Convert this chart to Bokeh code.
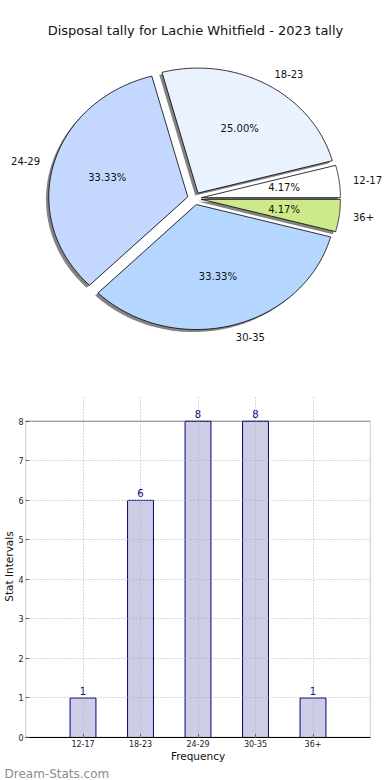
import numpy as np
from bokeh.plotting import figure
from bokeh.models import Range1d, FixedTicker, BoxAnnotation, Title
from bokeh.embed import file_html
from bokeh.resources import INLINE
from bokeh.core.properties import value

# ---------------- data ----------------
title_text = "Disposal tally for Lachie Whitfield - 2023 tally"
categories = ["12-17", "18-23", "24-29", "30-35", "36+"]
counts = [1, 6, 8, 8, 1]
slice_colors = ["#ffffff", "#eaf2ff", "#c4d8ff", "#b5d6ff", "#cdea8a"]
explode = [0.05, 0.05, 0.05, 0.05, 0.05]
y_ticks = [0, 1, 2, 3, 4, 5, 6, 7, 8]
x_label = "Frequency"
y_label = "Stat Intervals"
watermark = "Dream-Stats.com"

# ---------------- layout constants ----------------
FONT = "DejaVu Sans"
W = 390
H1 = 395
H2 = 385
RX, RY = 139.0, 125.0      # pie radii in pixels (elliptical pie)
CX, CY = 194.0, 198.0      # pie centre (pixels inside pie figure)

# ---------------- pie ----------------
p1 = figure(width=W, height=H1, output_backend="svg", toolbar_location=None,
            x_range=Range1d(-CX / RX, (W - CX) / RX),
            y_range=Range1d(-(H1 - CY) / RY, CY / RY),
            x_axis_location=None, y_axis_location=None,
            min_border=0, outline_line_color=None)
p1.grid.visible = False

total = float(sum(counts))
fracs = np.array(counts) / total
ends = np.cumsum(fracs) * 2 * np.pi
starts = ends - fracs * 2 * np.pi
mids = (starts + ends) / 2

xs, ys, sxs, sys_ = [], [], [], []
for s, e, m, ex in zip(starts, ends, mids, explode):
    t = np.linspace(s, e, 90)
    ox, oy = ex * np.cos(m), ex * np.sin(m)
    x = np.concatenate([[ox], ox + np.cos(t)])
    y = np.concatenate([[oy], oy + np.sin(t)])
    xs.append(x)
    ys.append(y)
    sxs.append(x - 0.02)
    sys_.append(y - 0.02)

p1.patches(sxs, sys_, fill_color="#303030", fill_alpha=0.6, line_color=None)
p1.patches(xs, ys, fill_color=slice_colors, line_color="black", line_width=0.8)

ex_arr = np.array(explode)
ox = ex_arr * np.cos(mids)
oy = ex_arr * np.sin(mids)
lx = ox + 1.1 * np.cos(mids)
ly = oy + 1.1 * np.sin(mids)
right_side = np.cos(mids) > 0
for side, align in ((True, "left"), (False, "right")):
    sel = right_side == side
    p1.text(x=lx[sel], y=ly[sel], text=[c for c, k in zip(categories, sel) if k],
            text_align=align, text_baseline="middle", text_font=value(FONT),
            text_font_size="10px", text_color="#111111")

px = ox + 0.6 * np.cos(mids)
py = oy + 0.6 * np.sin(mids)
pct = ["%.2f%%" % (f * 100) for f in fracs]
p1.text(x=px, y=py, text=pct, text_align="center", text_baseline="middle",
        text_font=value(FONT), text_font_size="10px", text_color="#111111")

p1.text(x=[(W / 2 - CX) / RX], y=[(CY - 30) / RY], text=[title_text],
        text_align="center", text_baseline="middle", text_font=value(FONT),
        text_font_size="13px", text_color="#111111")

# ---------------- bar chart ----------------
BOTTOM = 40
frame_h = H2 - BOTTOM
top_gap = 26
y_top = max(y_ticks) * frame_h / (frame_h - top_gap)

idx = list(range(len(categories)))
p2 = figure(width=W, height=H2, output_backend="svg", toolbar_location=None,
            x_range=Range1d(-1, len(categories)), y_range=Range1d(0, y_top),
            min_border_top=0, min_border_right=20, min_border_bottom=BOTTOM,
            min_border_left=19, outline_line_color=None)

p2.xaxis.ticker = FixedTicker(ticks=idx)
p2.xaxis.major_label_overrides = {i: c for i, c in enumerate(categories)}
p2.yaxis.ticker = FixedTicker(ticks=y_ticks)
p2.xaxis.axis_label = x_label
p2.yaxis.axis_label = y_label
for ax in (p2.xaxis, p2.yaxis):
    ax.major_tick_in = 4
    ax.major_tick_out = 0
    ax.minor_tick_line_color = None
    ax.major_tick_line_color = "#555555"
    ax.major_label_text_font = FONT
    ax.major_label_text_font_size = "8px"
    ax.major_label_text_color = "#222222"
    ax.major_label_standoff = 2
    ax.axis_label_text_font = FONT
    ax.axis_label_text_font_size = "10.5px"
    ax.axis_label_text_font_style = "normal"
    ax.axis_label_text_color = "#111111"
    ax.axis_label_standoff = 0
p2.yaxis.axis_line_color = None
p2.xaxis.axis_line_color = "black"

p2.grid.grid_line_color = "#b0b0b0"
p2.grid.grid_line_dash = "1 2"
p2.grid.grid_line_width = 1
p2.grid.level = "overlay"

p2.vbar(x=idx, top=counts, width=0.45, fill_color="#cdcde6",
        line_color="#000080", line_width=1)

px_per_unit = (frame_h - top_gap) / max(y_ticks)
p2.text(x=idx, y=[c + 3 / px_per_unit for c in counts], text=[str(c) for c in counts],
        text_align="center", text_baseline="bottom", text_font=value(FONT),
        text_font_size="10px", text_color="#000080")

p2.add_layout(BoxAnnotation(left=-1, right=len(categories), bottom=0, top=max(y_ticks),
                            fill_alpha=0, line_color="black", line_width=1.4,
                            level="overlay"))

p2.add_layout(Title(text=watermark, align="left", text_color="#8c8c8c",
                    text_font=FONT, text_font_size="12px", text_font_style="normal",
                    standoff=0, offset=-21), "below")

open("out.html", "w").write(file_html([p1, p2], INLINE))
